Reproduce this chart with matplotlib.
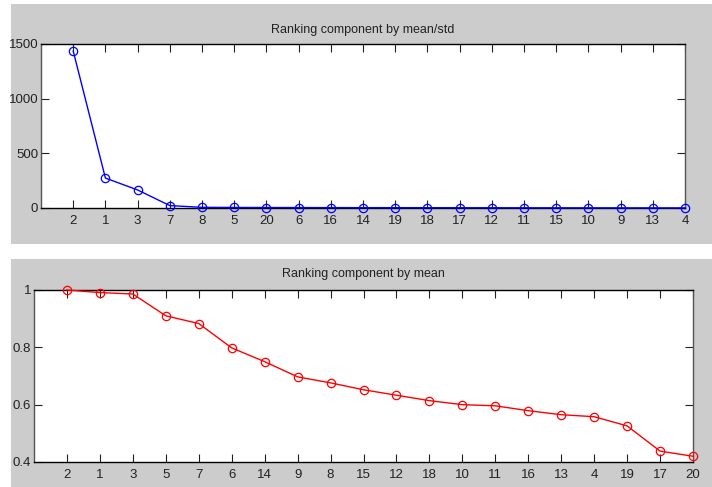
import numpy as np
import matplotlib
matplotlib.use("Agg")
import matplotlib.pyplot as plt
from matplotlib.patches import Rectangle

# --- data ---
top_title = "Ranking component by mean/std"
top_labels = ["2", "1", "3", "7", "8", "5", "20", "6", "16", "14",
              "19", "18", "17", "12", "11", "15", "10", "9", "13", "4"]
top_values = [1436, 274, 165, 22, 6, 5, 4.5, 4, 3.5, 3.2,
              3, 2.8, 2.5, 2.3, 2, 1.8, 1.6, 1.4, 1.2, 1]
top_yticks = [0, 500, 1000, 1500]
top_yticklabels = ["0", "500", "1000", "1500"]

bot_title = "Ranking component by mean"
bot_labels = ["2", "1", "3", "5", "7", "6", "14", "9", "8", "15",
              "12", "18", "10", "11", "16", "13", "4", "19", "17", "20"]
bot_values = [1.0, 0.991, 0.986, 0.910, 0.883, 0.798, 0.750, 0.697, 0.676, 0.652,
              0.633, 0.614, 0.600, 0.596, 0.579, 0.565, 0.558, 0.526, 0.438, 0.420]
bot_yticks = [0.4, 0.6, 0.8, 1.0]
bot_yticklabels = ["0.4", "0.6", "0.8", "1"]

W, H = 712, 487
FONT = ["Liberation Sans Narrow", "Liberation Sans", "DejaVu Sans"]
plt.rcParams["font.family"] = FONT

fig = plt.figure(figsize=(W / 100, H / 100), dpi=100)
fig.patch.set_facecolor("white")

def px_rect(x0, y0, x1, y1):
    # pixel box (top-left origin) -> figure fraction
    return [x0 / W, 1 - y1 / H, (x1 - x0) / W, (y1 - y0) / H]

# gray panel backgrounds
for (x0, y0, x1, y1) in [(11, 4, 712, 244), (11, 259, 712, 487)]:
    r = px_rect(x0, y0, x1, y1)
    fig.patches.append(Rectangle((r[0], r[1]), r[2], r[3], transform=fig.transFigure,
                                 facecolor="#cccccc", edgecolor="none", zorder=-10))

def panel(box, labels, values, yticks, yticklabels, ylim, color, title, title_y):
    ax = fig.add_axes(px_rect(*box))
    ax.set_facecolor("white")
    x = np.arange(1, len(values) + 1)
    ax.plot(x, values, color=color, lw=1, marker="o", ms=6, mfc="none",
            mec=color, mew=0.9, clip_on=False, zorder=3)
    ax.set_xlim(0, len(values))
    ax.set_ylim(*ylim)
    ax.set_xticks(x)
    ax.set_xticklabels(labels)
    ax.set_yticks(yticks)
    ax.set_yticklabels(yticklabels)
    ax.tick_params(direction="in", length=6, width=0.8, top=True, right=True,
                   labelsize=9.5, colors="#222222")
    ax.tick_params(axis="x", pad=5)
    ax.tick_params(axis="y", pad=2)
    for s in ["top", "bottom"]:
        ax.spines[s].set_color("black")
        ax.spines[s].set_linewidth(1)
    for s in ["left", "right"]:
        ax.spines[s].set_color("#555555")
        ax.spines[s].set_linewidth(1)
    cx = (box[0] + box[2]) / 2
    fig.text(cx / W, 1 - title_y / H, title, ha="center", va="center",
             fontsize=9, color="#222222")
    return ax

panel((41, 44, 685, 208), top_labels, top_values, top_yticks, top_yticklabels,
      (0, 1500), "#0000ff", top_title, 30)
panel((34, 290, 693, 462), bot_labels, bot_values, bot_yticks, bot_yticklabels,
      (0.4, 1.0), "#ff0000", bot_title, 274)

fig.savefig("out.png", dpi=100)
